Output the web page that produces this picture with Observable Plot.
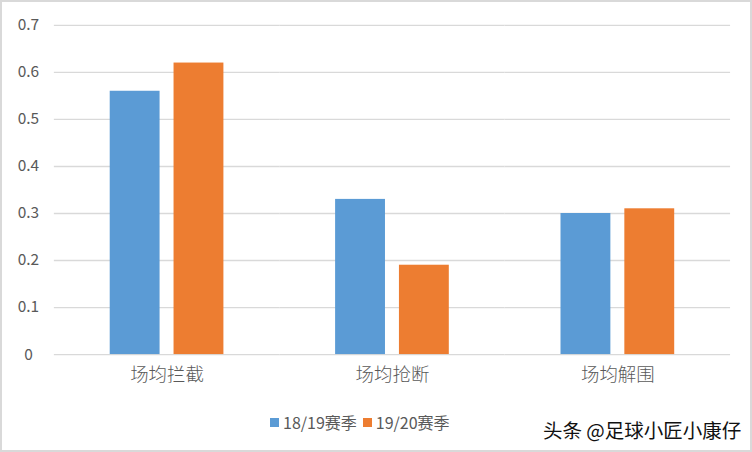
<!DOCTYPE html>
<html><head><meta charset="utf-8">
<script src="https://cdn.jsdelivr.net/npm/d3@7"></script>
<script src="https://cdn.jsdelivr.net/npm/@observablehq/plot@0.6"></script>
<style>
body{margin:0;background:#fff;}
#wrap{position:relative;width:752px;height:452px;box-sizing:border-box;border:2px solid #d9d9d9;overflow:hidden;}
#chart{position:absolute;left:-2px;top:-2px;}
#legend{position:absolute;top:408px;left:268px;font:16px "Noto Sans CJK SC",sans-serif;color:#595959;display:flex;align-items:center;}
.sw{display:inline-block;width:9px;height:9px;margin-right:4px;}
#wm{position:absolute;left:541px;top:413px;font:19.5px "Noto Sans CJK SC",sans-serif;color:#111;}
</style></head>
<body>
<div id="wrap"><div id="chart"></div>
<div id="legend"></div>
<div id="wm">头条 @足球小匠小康仔</div></div>
<script>
const categories = ["场均拦截","场均抢断","场均解围"];
const seasons = ["18/19赛季","19/20赛季"];
const season1819 = [0.56,0.33,0.30];
const season1920 = [0.62,0.19,0.31];
const yTicks = [0,0.1,0.2,0.3,0.4,0.5,0.6,0.7];
const colors = ["#5b9bd5","#ed7d31"];

const data = [];
categories.forEach((c,i)=>{
  data.push({cat:c, season:seasons[0], value:season1819[i]});
  data.push({cat:c, season:seasons[1], value:season1920[i]});
});

const chart = Plot.plot({
  width:752, height:452,
  marginLeft:53, marginRight:20, marginTop:25, marginBottom:97,
  style:{fontFamily:"'Noto Sans CJK SC', sans-serif", color:"#595959", background:"transparent"},
  fx:{domain:categories, padding:0, label:null},
  x:{domain:seasons, paddingInner:0.215, paddingOuter:0.86, axis:null},
  y:{domain:[0,0.7], ticks:yTicks, label:null},
  color:{domain:seasons, range:colors},
  marks:[
    Plot.gridY(yTicks,{stroke:"#d9d9d9", strokeOpacity:1, strokeWidth:1.3}),
    Plot.barY(data,{fx:"cat", x:"season", y:"value", fill:"season"}),
    Plot.axisY(yTicks,{tickSize:0, tickPadding:0, textAnchor:"middle", dx:-26, fontSize:15.5, fill:"#595959", label:null, tickFormat:d=>d===0?"0":String(d)}),
    Plot.axisFx({anchor:"bottom", tickSize:0, tickPadding:13, fontSize:18.5, fontWeight:300, fill:"#595959", label:null})
  ]
});
document.getElementById("chart").appendChild(chart);

const lg = document.getElementById("legend");
seasons.forEach((s,i)=>{
  const item = document.createElement("span");
  item.style.display="inline-flex"; item.style.alignItems="center"; item.style.marginRight="6px";
  item.innerHTML = `<span class="sw" style="background:${colors[i]}"></span>${s}`;
  lg.appendChild(item);
});
</script>
</body></html>
